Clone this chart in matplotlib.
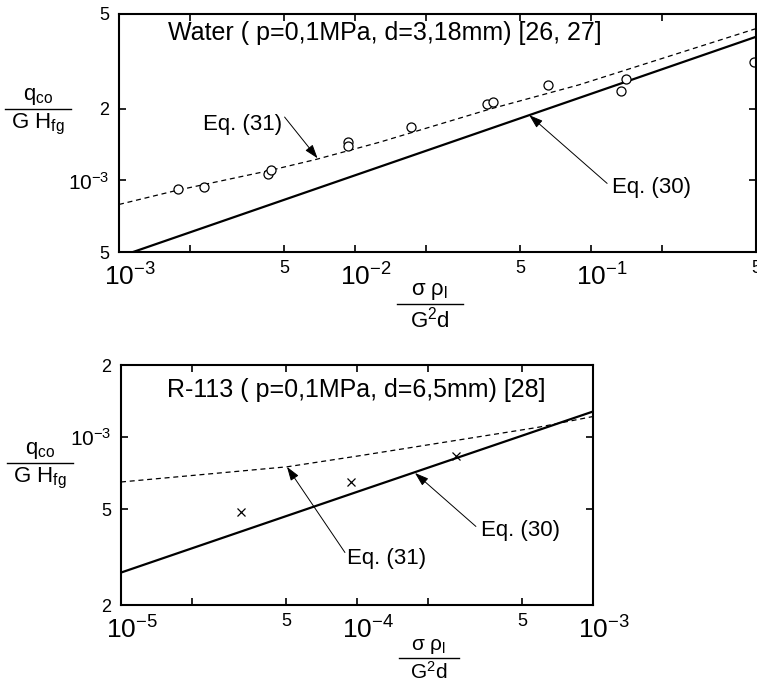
import numpy as np
import matplotlib.pyplot as plt
import matplotlib.transforms as mtransforms
from matplotlib.lines import Line2D

# ---------------------------------------------------------
# Data
# ---------------------------------------------------------
# Water, p=0.1 MPa, d=3.18 mm
water_x = [1.78e-3, 2.29e-3, 4.27e-3, 4.39e-3, 9.3e-3, 9.3e-3, 1.73e-2,
           3.63e-2, 3.85e-2, 6.58e-2, 0.134, 0.141, 0.489]
water_y = [0.916e-3, 0.934e-3, 1.06e-3, 1.11e-3, 1.45e-3, 1.39e-3, 1.67e-3,
           2.09e-3, 2.13e-3, 2.52e-3, 2.37e-3, 2.67e-3, 3.15e-3]

water_eq30_x = [1e-3, 1e-2, 1e-1, 5e-1]
water_eq30_y = [4.77e-4, 1.05e-3, 2.31e-3, 4.01e-3]

water_eq31_x = [1.0e-3, 1.76e-3, 4.35e-3, 6.87e-3, 1.27e-2, 3.71e-2, 8.9e-2, 5.0e-1]
water_eq31_y = [7.92e-4, 9.08e-4, 1.10e-3, 1.226e-3, 1.446e-3, 1.99e-3, 2.52e-3, 4.34e-3]

# R-113, p=0.1 MPa, d=6.5 mm
r113_x = [3.22e-5, 9.43e-5, 2.63e-4]
r113_y = [4.87e-4, 6.51e-4, 8.38e-4]

r113_eq30_x = [1e-5, 1e-4, 1e-3]
r113_eq30_y = [2.73e-4, 5.92e-4, 1.28e-3]

r113_eq31_x = [1e-5, 5.05e-5, 1.03e-4, 5.79e-4, 1e-3]
r113_eq31_y = [6.51e-4, 7.53e-4, 8.38e-4, 1.098e-3, 1.22e-3]

# tick labels
top_xmajor = [1e-3, 1e-2, 1e-1]
top_xmajor_lbl = ["$10^{-3}$", "$10^{-2}$", "$10^{-1}$"]
top_xminor = [2e-3, 5e-3, 2e-2, 5e-2, 2e-1, 5e-1]
top_xminor_lbl = ["", "5", "", "5", "", "5"]
top_ymajor = [1e-3]
top_ymajor_lbl = ["$10^{-3}$"]
top_yminor = [5e-4, 2e-3, 5e-3]
top_yminor_lbl = ["5", "2", "5"]

bot_xmajor = [1e-5, 1e-4, 1e-3]
bot_xmajor_lbl = ["$10^{-5}$", "$10^{-4}$", "$10^{-3}$"]
bot_xminor = [2e-5, 5e-5, 2e-4, 5e-4]
bot_xminor_lbl = ["", "5", "", "5"]
bot_ymajor = [1e-3]
bot_ymajor_lbl = ["$10^{-3}$"]
bot_yminor = [2e-4, 5e-4, 2e-3]
bot_yminor_lbl = ["2", "5", "2"]

# ---------------------------------------------------------
# Style
# ---------------------------------------------------------
plt.rcParams["font.family"] = ["Liberation Sans", "DejaVu Sans"]
plt.rcParams["mathtext.fontset"] = "custom"
plt.rcParams["mathtext.rm"] = "Liberation Sans"
plt.rcParams["mathtext.it"] = "Liberation Sans"
plt.rcParams["mathtext.default"] = "regular"

W, H = 757, 687
fig = plt.figure(figsize=(W / 100, H / 100), dpi=100)


def px_box(left, top, right, bottom):
    return [left / W, 1 - bottom / H, (right - left) / W, (bottom - top) / H]


def fig_xy(px, py):
    return px / W, 1 - py / H


def style_axes(ax, xlim, ylim, xmaj, xmaj_l, xmin, xmin_l, ymaj, ymaj_l, ymin, ymin_l):
    ax.set_xscale("log")
    ax.set_yscale("log")
    ax.set_xlim(*xlim)
    ax.set_ylim(*ylim)
    ax.set_xticks(xmaj, labels=xmaj_l)
    ax.set_xticks(xmin, labels=xmin_l, minor=True)
    ax.set_yticks(ymaj, labels=ymaj_l)
    ax.set_yticks(ymin, labels=ymin_l, minor=True)
    ax.tick_params(which="both", direction="in", length=5, width=1.2,
                   top=True, right=True)
    ax.tick_params(axis="x", which="major", pad=8, labelsize=19)
    ax.tick_params(axis="x", which="minor", pad=6, labelsize=13)
    ax.tick_params(axis="y", which="both", pad=7)
    ax.tick_params(axis="y", which="major", labelsize=15)
    ax.tick_params(axis="y", which="minor", labelsize=13)
    # decade labels sit a little right of their tick, as in the original
    shift = mtransforms.ScaledTranslation(8 / 72, 0, fig.dpi_scale_trans)
    for lab in ax.xaxis.get_majorticklabels():
        lab.set_transform(lab.get_transform() + shift)
    for s in ax.spines.values():
        s.set_linewidth(1.5)


def fraction(cx, line_y, half_w, num, den, size=16):
    x, y = fig_xy(cx, line_y)
    fig.text(x, y + 2 / H, num, ha="center", va="bottom", fontsize=size)
    fig.text(x, y - 3 / H, den, ha="center", va="top", fontsize=size)
    x0, _ = fig_xy(cx - half_w, line_y)
    x1, _ = fig_xy(cx + half_w, line_y)
    fig.add_artist(Line2D([x0, x1], [y, y], color="black", lw=1.0,
                          transform=fig.transFigure))


def arrow(ax, tail, head):
    ax.annotate("", xy=head, xytext=tail,
                arrowprops=dict(arrowstyle="-|>,head_length=0.6,head_width=0.2",
                                color="black", lw=0.7,
                                mutation_scale=14, shrinkA=0, shrinkB=0))


# ---------------------------------------------------------
# Top panel: water
# ---------------------------------------------------------
ax1 = fig.add_axes(px_box(119, 14, 756, 252))
style_axes(ax1, (1e-3, 5e-1), (5e-4, 5e-3),
           top_xmajor, top_xmajor_lbl, top_xminor, top_xminor_lbl,
           top_ymajor, top_ymajor_lbl, top_yminor, top_yminor_lbl)
ax1.plot(water_eq30_x, water_eq30_y, color="black", lw=1.6)
ax1.plot(water_eq31_x, water_eq31_y, color="black", lw=0.9, dashes=(4, 3))
ax1.plot(water_x, water_y, "o", mfc="white", mec="black", ms=6.5, mew=0.9)

ax1.text(0.077, 0.92, "Water ( p=0,1MPa, d=3,18mm) [26, 27]",
         transform=ax1.transAxes, fontsize=18, va="center", ha="left")
ax1.text(4.89e-3, 1.72e-3, "Eq. (31)", fontsize=16, ha="right", va="center")
arrow(ax1, (5.03e-3, 1.845e-3), (6.94e-3, 1.238e-3))
ax1.text(0.1227, 0.934e-3, "Eq. (30)", fontsize=16, ha="left", va="center")
arrow(ax1, (0.117, 0.971e-3), (5.47e-2, 1.88e-3))

fraction(430, 304, 33, "σ ρ$_{l}$", "G$^{2}$d")
fraction(38, 109, 33, "q$_{co}$", "G H$_{fg}$")

# ---------------------------------------------------------
# Bottom panel: R-113
# ---------------------------------------------------------
ax2 = fig.add_axes(px_box(121, 365, 593, 605))
style_axes(ax2, (1e-5, 1e-3), (2e-4, 2e-3),
           bot_xmajor, bot_xmajor_lbl, bot_xminor, bot_xminor_lbl,
           bot_ymajor, bot_ymajor_lbl, bot_yminor, bot_yminor_lbl)
ax2.plot(r113_eq30_x, r113_eq30_y, color="black", lw=1.6)
ax2.plot(r113_eq31_x, r113_eq31_y, color="black", lw=0.9, dashes=(4, 3))
ax2.plot(r113_x, r113_y, "x", color="black", ms=6, mew=0.9)

ax2.text(0.0975, 0.896, "R-113 ( p=0,1MPa, d=6,5mm) [28]",
         transform=ax2.transAxes, fontsize=18, va="center", ha="left")
ax2.text(9.07e-5, 3.12e-4, "Eq. (31)", fontsize=16, ha="left", va="center")
arrow(ax2, (8.89e-5, 3.31e-4), (5.05e-5, 7.53e-4))
ax2.text(3.35e-4, 4.09e-4, "Eq. (30)", fontsize=16, ha="left", va="center")
arrow(ax2, (3.19e-4, 4.25e-4), (1.76e-4, 7.1e-4))

fraction(429, 658, 30, "σ ρ$_{l}$", "G$^{2}$d", size=15)
fraction(40, 463, 33, "q$_{co}$", "G H$_{fg}$")

fig.savefig("out.png", dpi=100)
